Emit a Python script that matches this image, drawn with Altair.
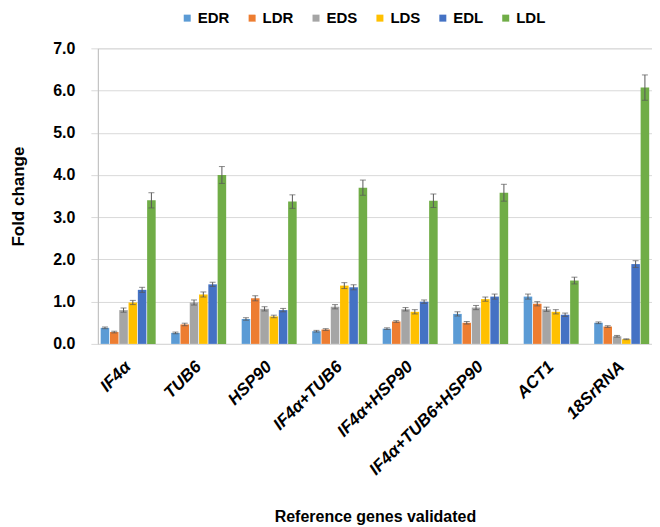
import altair as alt
import pandas as pd

genes = ["IF4α", "TUB6", "HSP90", "IF4α+TUB6", "IF4α+HSP90", "IF4α+TUB6+HSP90", "ACT1", "18SrRNA"]
series = ["EDR", "LDR", "EDS", "LDS", "EDL", "LDL"]
colors = ["#5B9BD5", "#ED7D31", "#A5A5A5", "#FFC000", "#4472C4", "#70AD47"]

EDR = [0.38, 0.26, 0.59, 0.30, 0.36, 0.71, 1.12, 0.50]
LDR = [0.28, 0.46, 1.08, 0.34, 0.53, 0.50, 0.95, 0.41]
EDS = [0.80, 0.98, 0.83, 0.88, 0.82, 0.86, 0.82, 0.18]
LDS = [0.98, 1.17, 0.65, 1.38, 0.76, 1.06, 0.76, 0.11]
EDL = [1.28, 1.41, 0.80, 1.34, 1.00, 1.12, 0.69, 1.89]
LDL = [3.40, 4.00, 3.37, 3.70, 3.39, 3.58, 1.50, 6.07]

EDR_err = [0.02, 0.02, 0.03, 0.02, 0.02, 0.05, 0.06, 0.02]
LDR_err = [0.02, 0.03, 0.06, 0.02, 0.02, 0.03, 0.05, 0.02]
EDS_err = [0.05, 0.06, 0.05, 0.05, 0.04, 0.05, 0.05, 0.02]
LDS_err = [0.05, 0.06, 0.03, 0.07, 0.05, 0.05, 0.05, 0.01]
EDL_err = [0.06, 0.05, 0.04, 0.06, 0.04, 0.06, 0.04, 0.08]
LDL_err = [0.18, 0.20, 0.16, 0.18, 0.16, 0.20, 0.08, 0.30]

vals = dict(EDR=EDR, LDR=LDR, EDS=EDS, LDS=LDS, EDL=EDL, LDL=LDL)
errs = dict(EDR=EDR_err, LDR=LDR_err, EDS=EDS_err, LDS=LDS_err, EDL=EDL_err, LDL=LDL_err)

rows = []
for s in series:
    for i, g in enumerate(genes):
        v = vals[s][i]
        e = errs[s][i]
        rows.append({"gene": g, "series": s, "value": v, "lo": v - e, "hi": v + e})
df = pd.DataFrame(rows)

FONT = "Liberation Sans"

x = alt.X("gene:N", sort=genes,
          scale=alt.Scale(paddingInner=0.22, paddingOuter=0.04),
          axis=alt.Axis(title="Reference genes validated", labelAngle=-45,
                        labelAlign="right", labelBaseline="middle",
                        labelFontSize=17, labelFontWeight="bold", labelFontStyle="italic",
                        labelFont=FONT, labelColor="#000", labelPadding=20,
                        ticks=False, domain=True, domainColor="#d9d9d9",
                        titleFont=FONT, titleFontSize=16, titleFontWeight="bold",
                        titleColor="#000", titlePadding=31, labelLimit=300))
xo = alt.XOffset("series:N", sort=series, scale=alt.Scale(paddingInner=0.08))
y = alt.Y("value:Q", scale=alt.Scale(domain=[0, 7], nice=False),
          axis=alt.Axis(title="Fold change", values=[0, 1, 2, 3, 4, 5, 6, 7], format=".1f",
                        labelFontSize=16, labelFontWeight="bold", labelFont=FONT,
                        labelColor="#000", labelPadding=16, tickSize=7, tickColor="#d9d9d9",
                        domainColor="#bfbfbf", gridColor="#d9d9d9",
                        titleFont=FONT, titleFontSize=17, titleFontWeight="bold",
                        titleColor="#000", titlePadding=25))

bars = alt.Chart(df).mark_bar().encode(
    x=x, xOffset=xo, y=y,
    color=alt.Color("series:N", sort=series,
                    scale=alt.Scale(domain=series, range=colors),
                    legend=alt.Legend(title=None, orient="none", direction="horizontal",
                                      legendX=82, legendY=-38, symbolType="square",
                                      symbolSize=49, symbolStrokeWidth=0,
                                      labelFontSize=15, labelFontWeight="bold",
                                      labelFont=FONT, labelColor="#000",
                                      columnPadding=15, labelOffset=3)),
)

rule = alt.Chart(df).mark_rule(color="#595959", strokeWidth=1).encode(
    x=alt.X("gene:N", sort=genes), xOffset=alt.XOffset("series:N", sort=series),
    y="lo:Q", y2="hi:Q")
cap_hi = alt.Chart(df).mark_tick(color="#595959", thickness=1, size=6).encode(
    x=alt.X("gene:N", sort=genes), xOffset=alt.XOffset("series:N", sort=series), y="hi:Q")
cap_lo = alt.Chart(df).mark_tick(color="#595959", thickness=1, size=6).encode(
    x=alt.X("gene:N", sort=genes), xOffset=alt.XOffset("series:N", sort=series), y="lo:Q")

chart = alt.layer(bars, rule, cap_hi, cap_lo).properties(
    width=555, height=296,
    padding={"left": 1, "top": 2, "right": 0, "bottom": 0},
).configure_view(stroke=None).configure(background="white")

chart.save("out.html", embed_options={"renderer": "svg", "actions": False})
